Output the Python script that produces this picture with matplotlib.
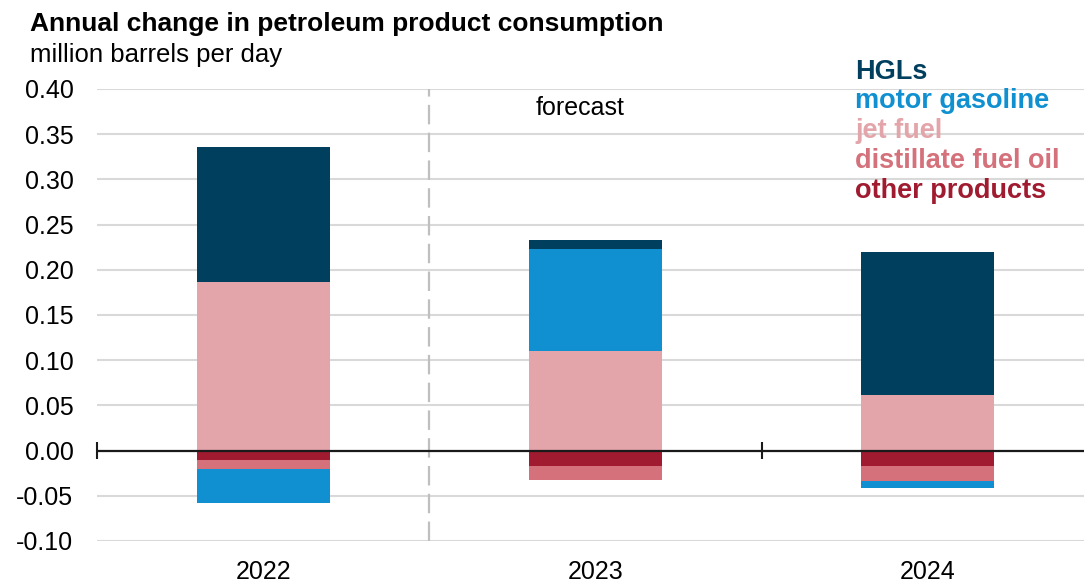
import matplotlib
matplotlib.use("Agg")
import matplotlib.pyplot as plt
import numpy as np

plt.rcParams['font.family'] = ['Liberation Sans', 'DejaVu Sans']
plt.rcParams['lines.scale_dashes'] = False

years = ['2022', '2023', '2024']
products = ['other products', 'distillate fuel oil', 'jet fuel', 'motor gasoline', 'HGLs']
other = [-0.010, -0.017, -0.017]
distillate = [-0.010, -0.015, -0.017]
jet = [0.187, 0.110, 0.061]
gasoline = [-0.0385, 0.1125, -0.007]
hgls = [0.149, 0.010, 0.159]
colors = ['#a01b30', '#d4717b', '#e3a4aa', '#1090d0', '#013f5e']

fig = plt.figure(figsize=(10.84, 5.85), dpi=100)
W, H = 1084, 585
ax = fig.add_axes([97 / W, 44 / H, 997 / W, 452 / H])

x = np.arange(len(years))
pos = np.zeros(len(years))
neg = np.zeros(len(years))
for vals, c in zip([other, distillate, jet, gasoline, hgls], colors):
    v = np.array(vals)
    base = np.where(v >= 0, pos, neg)
    ax.bar(x, v, 0.4, bottom=base, color=c, zorder=3)
    pos = np.where(v >= 0, pos + v, pos)
    neg = np.where(v < 0, neg + v, neg)

ax.set_xlim(-0.5, 2.5)
ax.set_ylim(-0.10, 0.40)
ticks = np.arange(-0.10, 0.401, 0.05)
ax.set_yticks(ticks)
ax.set_yticklabels([f'{t:.2f}' for t in ticks])
ax.yaxis.grid(True, color='#d9d9d9', lw=1.5, zorder=0)
ax.set_xticks(x)
ax.set_xticklabels(years)
ax.tick_params(axis='both', length=0, labelsize=18, colors='black')
ax.tick_params(axis='y', pad=17)
ax.tick_params(axis='x', pad=14)
for s in ax.spines.values():
    s.set_visible(False)

# zero line with category boundary ticks
ax.axhline(0, color='#1a1a1a', lw=1.6, zorder=4)
ax.vlines([-0.5, 1.5], -0.009, 0.009, color='#1a1a1a', lw=1.5, zorder=4, clip_on=False)
ax.axvline(0.5, color='#bfbfbf', lw=1.6, dashes=(14, 6), zorder=2)
ax.text(0.82, 0.379, 'forecast', fontsize=18, ha='left', va='center', zorder=5)

fig.text(30 / W, 1 - 24 / H, 'Annual change in petroleum product consumption',
         fontsize=19, fontweight='bold', va='center')
fig.text(30 / W, 1 - 55 / H, 'million barrels per day', fontsize=18.5, va='center')

legend_y = [72, 101, 131, 161, 191]
for name, c, yy in zip(products[::-1], colors[::-1], legend_y):
    fig.text(855 / W, 1 - yy / H, name, color=c, fontsize=19.5, fontweight='bold', va='center')

fig.savefig('out.png', dpi=100)
